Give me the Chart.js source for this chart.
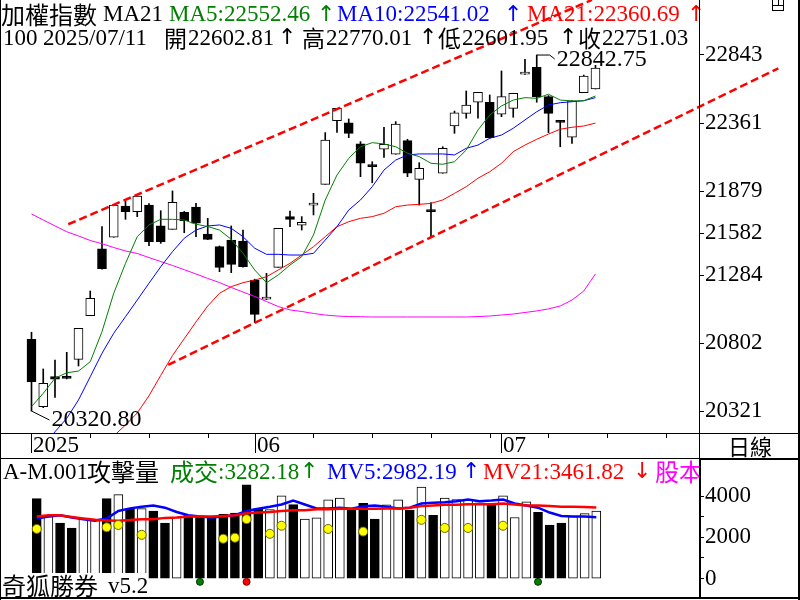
<!DOCTYPE html>
<html>
<head>
<meta charset="utf-8">
<script src="https://cdn.jsdelivr.net/npm/chart.js@4.4.1/dist/chart.umd.min.js"></script>
<style>
  body { margin: 0; background: #fff; }
  #wrap { position: relative; width: 800px; height: 600px; overflow: hidden; background: #fff; }
  canvas { position: absolute; left: 0; }
  .t { position: absolute; white-space: nowrap; font-family: "Liberation Serif", serif; }
  .cjk { font-family: "Noto Sans CJK TC", "Noto Sans CJK SC", sans-serif; }
  .arr { font-family: "DejaVu Sans", sans-serif; }
  .ln { position: absolute; background: #000; }
  #volhead { position: absolute; left: 0; top: 458px; width: 699px; height: 26px; overflow: hidden; }
</style>
</head>
<body>
<div id="wrap">
  <canvas id="price" width="800" height="458" style="top:0"></canvas>
  <canvas id="vol" width="800" height="142" style="top:458px"></canvas>
  <div id="volhead"></div>
</div>
<script>
/* ===== TAIEX daily: 2025/05/05 - 2025/07/11 ===== */

const dates = [
  '05/05','05/06','05/07','05/08','05/09','05/12','05/13','05/14','05/15','05/16',
  '05/19','05/20','05/21','05/22','05/23','05/26','05/27','05/28','05/29',
  '06/02','06/03','06/04','06/05','06/06','06/09','06/10','06/11','06/12','06/13',
  '06/16','06/17','06/18','06/19','06/20','06/23','06/24','06/25','06/26','06/27','06/30',
  '07/01','07/02','07/03','07/04','07/07','07/08','07/09','07/10','07/11'
];

const open  = [20829,20352,20564,20560,20687,20996,21469,21552,21773,21733,21780,21632,21608,21729,21766,21575,21485,21532,21525,
               21249,21114,21339,21698,21637,21780,21927,22378,22363,22213,22062,22175,22140,22236,21962,21743,22005,22340,22430,22508,22508,
               22423,22465,22708,22756,22548,22376,22260,22576,22602.81];
const high  = [20879,20619,20682,20737,20907,21171,21627,21780,21811,21844,21790,21740,21880,21735,21792,21686,21490,21632,21603,
               21255,21296,21615,21738,21698,21863,22293,22465,22390,22229,22087,22331,22371,22246,22080,21797,22193,22446,22588,22579,22560,
               22730,22572,22813,22842.75,22555,22376,22519,22701,22770.01];
const low   = [20320.80,20345,20418,20548,20640,20996,21325,21552,21679,21698,21492,21509,21608,21584,21556,21535,21308,21301,21340,
               20947,21110,21339,21627,21603,21710,21927,22295,22257,21981,21938,22118,22140,21981,21780,21552,22005,22288,22395,22395,22255,
               22406,22402,22705,22508,22293,22193,22217,22576,22601.95];
const close = [20529,20517,20546,20552,20907,21119,21329,21780,21733,21844,21521,21521,21799,21669,21651,21537,21339,21360,21343,
               21006,21126,21615,21679,21658,21790,22241,22465,22288,22076,22052,22210,22354,22005,22040,21733,22182,22434,22489,22579,22257,
               22548,22572,22718,22548,22430,22366,22519,22694,22751.03];

const ma5  = [20352,20446,20553,20592,20604,20670,20883,21155,21367,21556,21639,21679,21679,21674,21644,21628,21603,21537,21438,
              21320,21230,21285,21355,21414,21568,21816,21993,22111,22193,22222,22213,22193,22147,22123,22076,22069,22087,22170,22312,22418,
              22482,22524,22541,22536,22565,22524,22517,22519,22552.46];
const ma10 = [19990,20060,20174,20269,20399,20564,20730,20872,20989,21107,21226,21343,21450,21545,21603,21632,21639,21615,21556,
              21474,21431,21431,21426,21426,21438,21532,21627,21745,21816,21910,22028,22099,22135,22142,22142,22142,22135,22182,22205,22253,
              22276,22324,22383,22441,22489,22505,22512,22519,22541.02];
const ma21 = [null,null,null,null,null,null,20023,20144,20222,20307,20429,20573,20714,20833,20952,21065,21155,21202,21230,
              21249,21272,21320,21367,21426,21485,21556,21627,21662,21686,21698,21722,21768,21780,21785,21792,21816,21863,21910,21970,22016,
              22076,22158,22205,22246,22283,22317,22331,22340,22360.69];
const ma60 = [21717,21674,21632,21591,21561,21529,21506,21479,21455,21437,21408,21380,21352,21322,21292,21260,21231,21196,21164,
              21132,21097,21061,21037,21026,21012,21001,20994,20990,20989,20987,20987,20987,20987,20987,20987,20987,20987,20987,20990,20994,
              21001,21008,21019,21030,21044,21065,21107,21171,21292];

const volume = [3890,3019,2693,2452,2890,2860,3890,4081,3400,3400,3286,2700,2970,3080,3050,2970,3130,3190,4557,
                3400,3350,4030,3600,2890,2950,3830,3920,3400,3660,2890,3590,3830,3320,4445,3080,3920,3840,3840,3680,3600,
                4030,2970,3730,3220,2600,2700,3020,3160,3282.18];
const mv5  = [2924,3019,3081,2971,2890,2810,2924,3286,3414,3495,3557,3448,3238,3081,3019,2971,3019,3081,3286,
              3400,3495,3605,3795,3605,3414,3414,3448,3400,3524,3557,3495,3414,3448,3652,3686,3714,3762,3843,3762,3795,
              3843,3652,3557,3448,3210,3048,3019,3019,2982.19];
const mv21 = [3019,3081,3081,3000,2924,2857,2829,2810,2843,2890,2890,2952,2971,3019,3019,3019,3048,3081,3176,
              3210,3238,3286,3319,3319,3367,3367,3400,3400,3400,3400,3414,3414,3448,3524,3557,3590,3590,3619,3619,3619,
              3652,3605,3557,3557,3524,3495,3495,3476,3461.82];

// attack-volume markers
const attackIdx = [0,6,7,9,16,17,18,20,21,25,28,33,35,37,40];
const attackVal = [2414,2495,2605,2129,1938,1986,2890,2176,2571,2414,2286,2857,2462,2462,2571];
const buyIdx  = [14,43];
const sellIdx = [18];
const signalLevel = -160;

// hand-drawn trend lines: [candle index, price]
const upperTrend = [[3.13,21644],[47.7,23233]];
const lowerTrend = [[11.64,20647],[63.56,22749]];

const priceTicks = [20321,20802,21284,21582,21879,22361,22843];
const volTicks   = [0,1000,2000,3000,4000];
const weekTicks  = [0,5,10,15,24,29,34,39,44,49,54];
const monthIdx   = [0,19,40];
const monthLabel = ['2025','06','07'];

const X_MIN = -2.68, X_MAX = 56.81;
const SERIF = '"Liberation Serif", serif';

const isUp = i => close[i] >= open[i];
const pts = arr => arr.map((v, i) => ({x: i, y: v}));

// date row, extreme labels
const decor = {
  id: 'decor',
  afterDatasetsDraw(chart) {
    const {ctx, chartArea} = chart;
    const x = chart.scales.x, y = chart.scales.y;
    ctx.save();
    ctx.strokeStyle = '#000';
    ctx.fillStyle = '#000';
    ctx.lineWidth = 1;
    weekTicks.forEach(i => {
      const px = Math.round(x.getPixelForValue(i)) + 0.5;
      ctx.beginPath(); ctx.moveTo(px, chartArea.bottom); ctx.lineTo(px, chartArea.bottom + 5); ctx.stroke();
    });
    ctx.font = '23px ' + SERIF;
    ctx.textBaseline = 'middle';
    monthIdx.forEach((i, k) => {
      const px = Math.round(x.getPixelForValue(i)) + 0.5;
      ctx.beginPath(); ctx.moveTo(px, chartArea.bottom); ctx.lineTo(px, chartArea.bottom + 20); ctx.stroke();
      ctx.fillText(monthLabel[k], px + 1.5, chartArea.bottom + 13);
    });

    // lowest low / highest high
    const lo = low.indexOf(Math.min(...low));
    const hi = high.indexOf(Math.max(...high));
    ctx.font = '24px ' + SERIF;
    let px = x.getPixelForValue(lo), py = y.getPixelForValue(low[lo]);
    ctx.beginPath(); ctx.moveTo(px, py); ctx.lineTo(px + 18, py + 9); ctx.stroke();
    ctx.fillText(low[lo].toFixed(2), px + 20, py + 9);
    px = x.getPixelForValue(hi); py = y.getPixelForValue(high[hi]);
    ctx.beginPath(); ctx.moveTo(px, py); ctx.lineTo(px + 13, py); ctx.lineTo(px + 18, py + 4); ctx.stroke();
    ctx.fillText(high[hi].toFixed(2), px + 20, py + 5);
    ctx.restore();
  }
};

const lineDs = (data, color, width, order) => ({
  type: 'line', data: pts(data), borderColor: color, borderWidth: width,
  pointRadius: 0, tension: 0, order: order
});

new Chart(document.getElementById('price'), {
  type: 'bar',
  data: {
    datasets: [
      {type: 'line', data: upperTrend.map(p => ({x: p[0], y: p[1]})), borderColor: '#ff0000', borderWidth: 2.5,
       borderDash: [8, 4], pointRadius: 0, order: 0},
      {type: 'line', data: lowerTrend.map(p => ({x: p[0], y: p[1]})), borderColor: '#ff0000', borderWidth: 2.5,
       borderDash: [8, 4], pointRadius: 0, order: 0, clip: false},
      lineDs(ma5, '#008000', 1, 1),
      lineDs(ma10, '#0000ff', 1, 1),
      lineDs(ma21, '#ff0000', 1, 1),
      lineDs(ma60, '#ff00ff', 1, 1),
      {type: 'bar', data: dates.map((d, i) => ({x: i, y: [low[i], high[i]]})),
       backgroundColor: '#000', barThickness: 1, grouped: false, order: 3},
      {type: 'bar', data: dates.map((d, i) => ({x: i, y: [open[i], close[i]]})),
       backgroundColor: ctx => isUp(ctx.dataIndex) ? '#fff' : '#000',
       borderColor: '#000', borderWidth: 1, borderSkipped: false,
       barThickness: 9, minBarLength: 2, grouped: false, order: 2}
    ]
  },
  options: {
    responsive: false, animation: false, devicePixelRatio: 1, events: [],
    layout: {padding: {left: 0, right: 0, top: 0, bottom: 25}},
    plugins: {legend: {display: false}, tooltip: {enabled: false}},
    scales: {
      x: {type: 'linear', min: X_MIN, max: X_MAX, offset: false, display: false},
      y: {
        type: 'linear', position: 'right', min: 20165.2, max: 23232.6,
        afterBuildTicks: s => { s.ticks = priceTicks.map(v => ({value: v})); },
        afterFit: s => { s.width = 101; s.paddingTop = 0; s.paddingBottom = 0; },
        grid: {drawOnChartArea: false, tickLength: 5, color: '#000'},
        border: {display: false},
        ticks: {autoSkip: false, padding: 1, color: '#000', font: {family: SERIF, size: 23},
                callback: v => String(v)}
      }
    }
  },
  plugins: [decor]
});

new Chart(document.getElementById('vol'), {
  type: 'bar',
  data: {
    datasets: [
      {type: 'line', data: pts(mv21), borderColor: '#ff0000', borderWidth: 2.5, pointRadius: 0, order: 1},
      {type: 'line', data: pts(mv5), borderColor: '#0000ff', borderWidth: 2.5, pointRadius: 0, order: 1},
      {type: 'line', showLine: false, data: attackIdx.map((i, k) => ({x: i, y: attackVal[k]})),
       pointRadius: 4.5, pointBackgroundColor: '#ffff00', pointBorderColor: '#6b6b00', pointBorderWidth: 1, order: 0},
      {type: 'line', showLine: false, data: buyIdx.map(i => ({x: i, y: signalLevel})),
       pointRadius: 3.5, pointBackgroundColor: '#008000', pointBorderColor: '#003000', pointBorderWidth: 1, order: 0},
      {type: 'line', showLine: false, data: sellIdx.map(i => ({x: i, y: signalLevel})),
       pointRadius: 3.5, pointBackgroundColor: '#ff0000', pointBorderColor: '#700000', pointBorderWidth: 1, order: 0},
      {type: 'bar', data: pts(volume),
       backgroundColor: ctx => isUp(ctx.dataIndex) ? '#fff' : '#000',
       borderColor: '#000', borderWidth: 1, borderSkipped: false,
       barThickness: 9, grouped: false, order: 2}
    ]
  },
  options: {
    responsive: false, animation: false, devicePixelRatio: 1, events: [],
    layout: {padding: {left: 0, right: 0, top: 22, bottom: 3}},
    plugins: {legend: {display: false}, tooltip: {enabled: false}},
    scales: {
      x: {type: 'linear', min: X_MIN, max: X_MAX, offset: false, display: false},
      y: {
        type: 'linear', position: 'right', min: -776, max: 4795,
        afterBuildTicks: s => { s.ticks = volTicks.map(v => ({value: v})); },
        afterFit: s => { s.width = 101; s.paddingTop = 0; s.paddingBottom = 0; },
        grid: {drawOnChartArea: false, tickLength: 5, color: '#000'},
        border: {display: false},
        ticks: {autoSkip: false, padding: 1, color: '#000', font: {family: SERIF, size: 23},
                callback: v => v % 2000 === 0 ? String(v) : ''}
      }
    }
  }
});

// ---- text overlays ----
const wrap = document.getElementById('wrap');
function put(parent, text, left, cy, color, size, kind) {
  const d = document.createElement('div');
  d.className = 't' + (kind ? ' ' + kind : '');
  d.textContent = text;
  d.style.left = left + 'px';
  d.style.top = (cy - size / 2) + 'px';
  d.style.fontSize = size + 'px';
  d.style.lineHeight = size + 'px';
  d.style.color = color;
  parent.appendChild(d);
  return d;
}
// arrows: place by the x of the stem
const arrow = (parent, ch, stemX, cy, color) => put(parent, ch, stemX - 9, cy, color, 22, 'arr');
const G = '#008000', B = '#0000ff', R = '#ff0000', K = '#000', M = '#ff00ff';

// header line 1
put(wrap, '加權指數', 1, 13.5, K, 24, 'cjk');
put(wrap, 'MA21', 103, 13.5, K, 23);
put(wrap, 'MA5:22552.46', 169, 13.5, G, 23);
arrow(wrap, '↑', 326, 13.5, G);
put(wrap, 'MA10:22541.02', 337, 13.5, B, 23);
arrow(wrap, '↑', 513, 13.5, B);
put(wrap, 'MA21:22360.69', 527, 13.5, R, 23);
arrow(wrap, '↑', 696, 13.5, R);
// header line 2
put(wrap, '100', 3, 37, K, 23);
put(wrap, '2025/07/11', 43, 37, K, 23);
put(wrap, '開', 164, 37, K, 23, 'cjk');
put(wrap, open[48].toFixed(2), 188, 37, K, 23);
arrow(wrap, '↑', 287, 37, K);
put(wrap, '高', 302, 37, K, 23, 'cjk');
put(wrap, high[48].toFixed(2), 326, 37, K, 23);
arrow(wrap, '↑', 428, 37, K);
put(wrap, '低', 438, 37, K, 23, 'cjk');
put(wrap, low[48].toFixed(2), 462, 37, K, 23);
arrow(wrap, '↑', 568, 37, K);
put(wrap, '收', 578, 37, K, 23, 'cjk');
put(wrap, close[48].toFixed(2), 602, 37, K, 23);

put(wrap, '日線', 728, 445, K, 22, 'cjk');

// volume header
const vh = document.getElementById('volhead');
put(vh, 'A-M.001', 3, 13, K, 23);
put(vh, '攻擊量', 87, 13, K, 24, 'cjk');
put(vh, '成交', 170, 13, G, 24, 'cjk');
put(vh, ':3282.18', 218, 13, G, 23);
arrow(vh, '↑', 309, 13, G);
put(vh, 'MV5:2982.19', 327, 13, B, 23);
arrow(vh, '↑', 471, 13, B);
put(vh, 'MV21:3461.82', 483, 13, R, 23);
arrow(vh, '↓', 642, 13, R);
put(vh, '股本', 655, 13, M, 24, 'cjk');

// watermark box
const wm = document.createElement('div');
wm.style.cssText = 'position:absolute;left:1px;top:573px;width:146px;height:24px;background:#fff;';
wrap.appendChild(wm);
put(wrap, '奇狐勝券', 2, 585, K, 24, 'cjk');
put(wrap, 'v5.2', 108, 585, K, 23);

// frame lines
function line(l, t, w, h) {
  const d = document.createElement('div');
  d.className = 'ln';
  d.style.cssText += `left:${l}px;top:${t}px;width:${w}px;height:${h}px;`;
  wrap.appendChild(d);
}
line(0, 0, 1, 600);
line(798, 0, 2, 600);
line(0, 597, 800, 2);
line(699, 0, 1, 458);
line(699, 458, 2, 140);
line(0, 433, 800, 1);
line(0, 458, 800, 1);
line(699, 458, 101, 2);

// little window icon top-right
const ic = document.createElement('div');
ic.style.cssText = 'position:absolute;left:772px;top:0;width:10px;height:10px;border:1px solid #000;border-top:none;';
wrap.appendChild(ic);
line(772, 5, 12, 1);
line(778, 0, 1, 5);
</script>
</body>
</html>
